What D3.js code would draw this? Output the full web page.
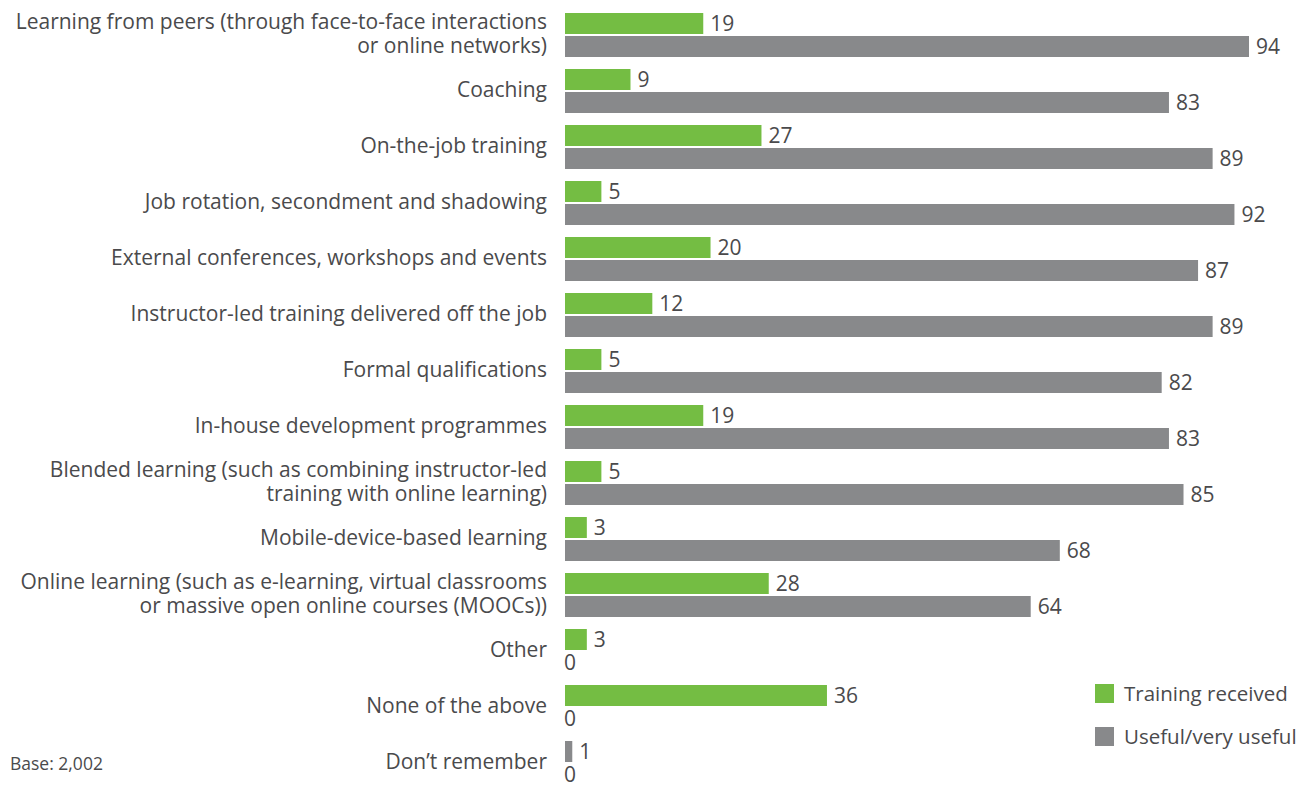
<!DOCTYPE html>
<html>
<head>
<meta charset="utf-8">
<script src="https://cdn.jsdelivr.net/npm/d3@7"></script>
<style>
  body { margin: 0; background: #fff; }
  text { font-family: "Open Sans", sans-serif; fill: #4a4a4c; }
</style>
</head>
<body>
<script>
// Categories (label lines) and values
var categories = [
    ["Learning from peers (through face-to-face interactions", "or online networks)"],
    ["Coaching"],
    ["On-the-job training"],
    ["Job rotation, secondment and shadowing"],
    ["External conferences, workshops and events"],
    ["Instructor-led training delivered off the job"],
    ["Formal qualifications"],
    ["In-house development programmes"],
    ["Blended learning (such as combining instructor-led", "training with online learning)"],
    ["Mobile-device-based learning"],
    ["Online learning (such as e-learning, virtual classrooms", "or massive open online courses (MOOCs))"],
    ["Other"],
    ["None of the above"],
    ["Don\u2019t remember"]
];
var trainingReceived = [19, 9, 27, 5, 20, 12, 5, 19, 5, 3, 28, 3, 36, 1];
var usefulVeryUseful = [94, 83, 89, 92, 87, 89, 82, 83, 85, 68, 64, 0, 0, 0];
var seriesNames = ["Training received", "Useful/very useful"];

var width = 1311, height = 785;
var green = "#74bd43", grey = "#88898b";

var svg = d3.select("body").append("svg")
    .attr("width", width)
    .attr("height", height);

var rows = categories.map(function(c, i) {
    return { lines: c, idx: i, vals: [trainingReceived[i], usefulVeryUseful[i]] };
});

// scales
var x = d3.scaleLinear().domain([0, 94]).range([565, 1249]);
var y = d3.scaleBand().domain(d3.range(rows.length))
    .range([13, 13 + 56 * rows.length - 12])
    .paddingInner(12 / 56).paddingOuter(0);
var ySub = d3.scaleBand().domain([0, 1]).range([0, y.bandwidth()]).paddingInner(2 / 23);

var row = svg.selectAll(".row")
    .data(rows)
    .enter().append("g")
    .attr("class", "row")
    .attr("transform", function(d) { return "translate(0," + y(d.idx) + ")"; });

// category labels
row.append("text")
    .attr("text-anchor", "end")
    .attr("font-size", 21)
    .each(function(d) {
        var t = d3.select(this);
        var n = d.lines.length;
        var mid = y.bandwidth() / 2;
        d.lines.forEach(function(line, k) {
            t.append("tspan")
                .attr("x", 547)
                .attr("y", mid + (k - (n - 1) / 2) * 23.5 + 6)
                .text(line);
        });
    });

// bars
row.selectAll("rect")
    .data(function(d) {
        return d.vals.map(function(v, s) { return { v: v, s: s, idx: d.idx }; });
    })
    .enter().append("rect")
    .attr("x", x(0))
    .attr("y", function(d) { return ySub(d.s); })
    .attr("height", ySub.bandwidth())
    .attr("width", function(d) { return x(d.v) - x(0); })
    .attr("fill", function(d) {
        // the "Don't remember" bar is drawn grey in the original
        if (d.s === 0 && d.idx === rows.length - 1) return grey;
        return d.s === 0 ? green : grey;
    });

// value labels
row.selectAll(".val")
    .data(function(d) {
        return d.vals.map(function(v, s) { return { v: v, s: s }; });
    })
    .enter().append("text")
    .attr("class", "val")
    .attr("font-size", 21)
    .attr("x", function(d) { return d.v > 0 ? x(d.v) + 7 : x(0) - 1; })
    .attr("y", function(d) { return ySub(d.s) + ySub.bandwidth() / 2 + 7; })
    .text(function(d) { return d.v; });

// legend
var legend = svg.append("g").attr("transform", "translate(1095,684)");
seriesNames.forEach(function(name, i) {
    var g = legend.append("g").attr("transform", "translate(0," + (i * 43) + ")");
    g.append("rect").attr("width", 19).attr("height", 19).attr("fill", i === 0 ? green : grey);
    g.append("text").attr("x", 29).attr("y", 17).attr("font-size", 20.5).text(name);
});

svg.append("text")
    .attr("x", 10).attr("y", 770)
    .attr("font-size", 17.5)
    .text("Base: 2,002");
</script>
</body>
</html>
